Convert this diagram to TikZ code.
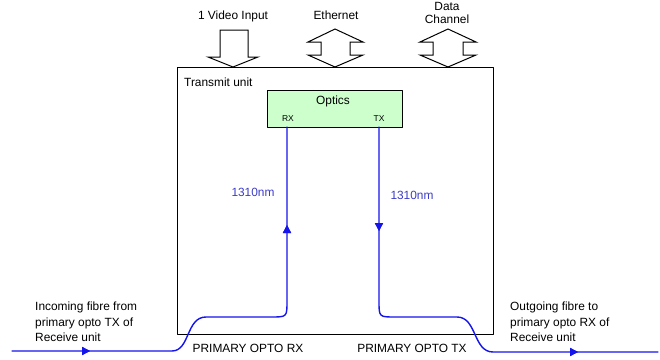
\documentclass[tikz,border=0pt]{standalone}
\usepackage{fontspec}
\setmainfont{Liberation Sans}
\usepackage{xcolor}
\usetikzlibrary{arrows.meta,decorations.markings}
\definecolor{optgreen}{RGB}{204,255,204}
\definecolor{fibreblue}{RGB}{20,20,235}
\definecolor{lblblue}{RGB}{60,60,200}
\tikzset{
  lbl/.style={inner sep=0pt, font=\fontsize{11.9}{15.5}\selectfont},
  small/.style={inner sep=0pt, font=\fontsize{8.5}{10}\selectfont},
  blockarrow/.style={draw, fill=white, line width=1pt, line join=miter},
  fibre/.style={draw=fibreblue, line width=1.4pt},
  fwd/.style={postaction={decorate}, decoration={markings,
      mark=at position #1 with {\arrow[fibreblue]{Triangle[length=8pt,width=8pt]}}}},
  every picture/.style={line cap=round, line join=round}
}

\begin{document}
\begin{tikzpicture}[x=1pt,y=-1pt]
  \useasboundingbox (0,0) rectangle (660,359);

  % units
  \node[draw, line width=1pt, minimum width=316, minimum height=267,
        anchor=north west, inner sep=0pt] (unit) at (177,67) {};
  \node[draw, line width=1pt, fill=optgreen, minimum width=135, minimum height=37,
        anchor=north west, inner sep=0pt] (optics) at (267,90) {};

  \node[lbl, anchor=base west] (unitlbl) at (184,86) {Transmit unit};
  \node[lbl, anchor=base] (opticslbl) at (333,104) {Optics};
  \node[small, anchor=base] (rxlbl) at (288,121) {RX};
  \node[small, anchor=base] (txlbl) at (379,121) {TX};

  % block arrows on top
  \draw[blockarrow] (220,30) -- (248,30) -- (248,57) -- (258,57) -- (233,67)
        -- (208,57) -- (220,57) -- cycle;
  \draw[blockarrow] (335,29) -- (363,42) -- (350,42) -- (350,55) -- (363,55)
        -- (335,67) -- (308,55) -- (321,55) -- (321,42) -- (308,42) -- cycle;
  \draw[blockarrow] (448,29) -- (476,42) -- (463,42) -- (463,55) -- (476,55)
        -- (448,67) -- (420,55) -- (433,55) -- (433,42) -- (420,42) -- cycle;

  \node[lbl, anchor=base] (videolbl) at (233,19) {1 Video Input};
  \node[lbl, anchor=base] (ethlbl) at (336,19) {Ethernet};
  \node[lbl, anchor=base] (datalbl) at (447,10) {Data};
  \node[lbl, anchor=base] (chanlbl) at (447,23) {Channel};

  % fibre coordinates
  \coordinate (rxin) at (12,351);
  \coordinate (rxend) at (287,127);
  \coordinate (txstart) at (379,127);
  \coordinate (txout) at (658,352);

  % incoming fibre
  \draw[fibre, fwd=78pt, fwd=-98pt] (rxin) -- (172,351)
        .. controls (190,351) and (186,317) .. (206,317) -- (271,317)
        .. controls (287,317) and (287,317) .. (287,301) -- (rxend);

  % outgoing fibre
  \draw[fibre, fwd=104pt, fwd=-80pt] (txstart) -- (379,301)
        .. controls (379,317) and (379,317) .. (395,317) -- (457,317)
        .. controls (477,317) and (473,352) .. (493,352) -- (txout);

  \node[lbl, text=lblblue, anchor=base] (rxnm) at (253,196) {1310nm};
  \node[lbl, text=lblblue, anchor=base] (txnm) at (412,199) {1310nm};

  \node[lbl, anchor=base] (rxport) at (248,352) {PRIMARY OPTO RX};
  \node[lbl, anchor=base] (txport) at (412,352) {PRIMARY OPTO TX};

  \node[lbl, anchor=north west, align=left] (inlbl) at (35,302)
        {Incoming fibre from\\primary opto TX of\\Receive unit};
  \node[lbl, anchor=north west, align=left] (outlbl) at (510,302)
        {Outgoing fibre to\\primary opto RX of\\Receive unit};
\end{tikzpicture}
\end{document}
